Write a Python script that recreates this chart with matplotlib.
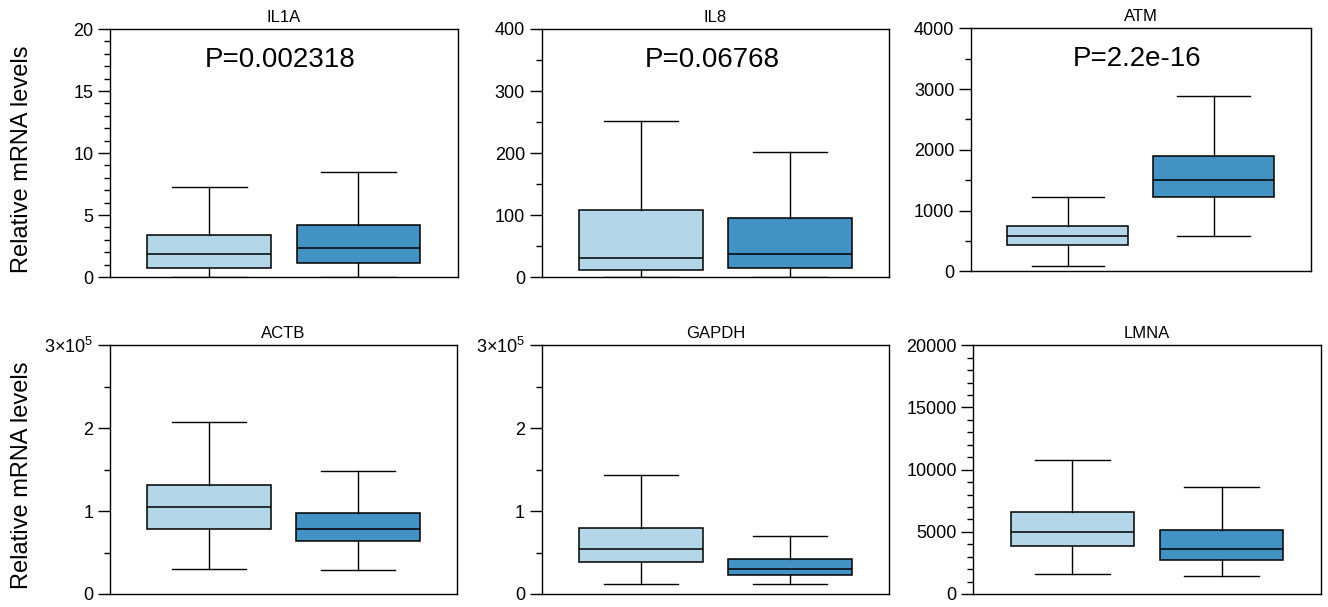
import matplotlib
matplotlib.use("Agg")
import matplotlib.pyplot as plt
from matplotlib.ticker import MultipleLocator, FuncFormatter

plt.rcParams['font.family'] = ['Liberation Sans', 'DejaVu Sans']
plt.rcParams['mathtext.fontset'] = 'custom'
plt.rcParams['mathtext.rm'] = 'Liberation Sans'
plt.rcParams['mathtext.it'] = 'Liberation Sans:italic'

# gene panels, in reading order
genes = ["IL1A", "IL8", "ATM", "ACTB", "GAPDH", "LMNA"]
p_labels = ["P=0.002318", "P=0.06768", "P=2.2e-16", None, None, None]

# (whislo, q1, median, q3, whishi) for the two groups
il1a = [(0.0, 0.70, 1.83, 3.39, 7.23), (0.0, 1.10, 2.31, 4.19, 8.47)]
il8 = [(0.0, 11.3, 31.1, 107.9, 252.3), (0.0, 15.0, 37.0, 95.6, 201.3)]
atm = [(93, 433, 587, 752, 1229), (576, 1224, 1498, 1898, 2881)]
actb = [(30000, 79000, 105000, 131000, 207000), (28500, 63500, 78000, 98000, 148000)]
gapdh = [(12000, 38600, 54000, 80000, 143000), (12000, 23000, 30000, 42000, 70000)]
lmna = [(1635, 3834, 4960, 6622, 10777), (1448, 2761, 3646, 5121, 8633)]
stats_all = [il1a, il8, atm, actb, gapdh, lmna]

y_max = [20, 400, 4000, 3e5, 3e5, 20000]
y_major = [5, 100, 1000, 1e5, 1e5, 5000]
y_minor = [1, 50, 500, 0.5e5, 0.5e5, 1000]

colors = ["#b3d7e8", "#4392c4"]

W, H = 1328, 607
# panel boxes in pixels: left, top, right, bottom
boxes_px = [
    (110, 29, 457.7, 277),
    (541.7, 29, 889.3, 277.3),
    (971, 28.3, 1310.7, 271.3),
    (110, 345.3, 457.3, 594),
    (541.7, 345.3, 889.3, 594),
    (973.3, 345.3, 1320.7, 594),
]

fig = plt.figure(figsize=(W / 100, H / 100), dpi=100)


def sci_fmt(v, pos):
    n = int(round(v / 1e5))
    if n == 0:
        return "0"
    if n == 3:
        return r"3×10$^{5}$"
    return str(n)


for i, gene in enumerate(genes):
    l, t, r, b = boxes_px[i]
    ax = fig.add_axes([l / W, 1 - b / H, (r - l) / W, (b - t) / H])
    stats = []
    for s in stats_all[i]:
        stats.append({"whislo": s[0], "q1": s[1], "med": s[2], "q3": s[3],
                      "whishi": s[4], "fliers": []})
    bp = ax.bxp(stats, positions=[1, 2], widths=0.83, capwidths=0.5,
                patch_artist=True, showfliers=False,
                boxprops=dict(edgecolor="black", linewidth=1.1),
                medianprops=dict(color="black", linewidth=1.1),
                whiskerprops=dict(color="black", linewidth=1.0),
                capprops=dict(color="black", linewidth=1.0))
    for patch, c in zip(bp["boxes"], colors):
        patch.set_facecolor(c)

    ax.set_xlim(0.335, 2.665)
    ax.set_ylim(0, y_max[i])
    ax.set_xticks([])
    ax.yaxis.set_major_locator(MultipleLocator(y_major[i]))
    ax.yaxis.set_minor_locator(MultipleLocator(y_minor[i]))
    if y_max[i] == 3e5:
        ax.yaxis.set_major_formatter(FuncFormatter(sci_fmt))
    ax.tick_params(axis="y", which="major", length=9, width=1, pad=3,
                   labelsize=13)
    ax.tick_params(axis="y", which="minor", length=4.5, width=1)
    for sp in ax.spines.values():
        sp.set_linewidth(1.0)
        sp.set_color("black")
    ax.set_title(gene, fontsize=12, pad=5)
    if p_labels[i]:
        ax.text(0.49, 0.845, p_labels[i], transform=ax.transAxes,
                ha="center", va="baseline", fontsize=20)

fig.text(22.5 / W, 1 - 159 / H, "Relative mRNA levels", rotation=90,
         ha="center", va="center", fontsize=17)
fig.text(22.5 / W, 1 - 475.5 / H, "Relative mRNA levels", rotation=90,
         ha="center", va="center", fontsize=17)

fig.savefig("out.png", dpi=100)
